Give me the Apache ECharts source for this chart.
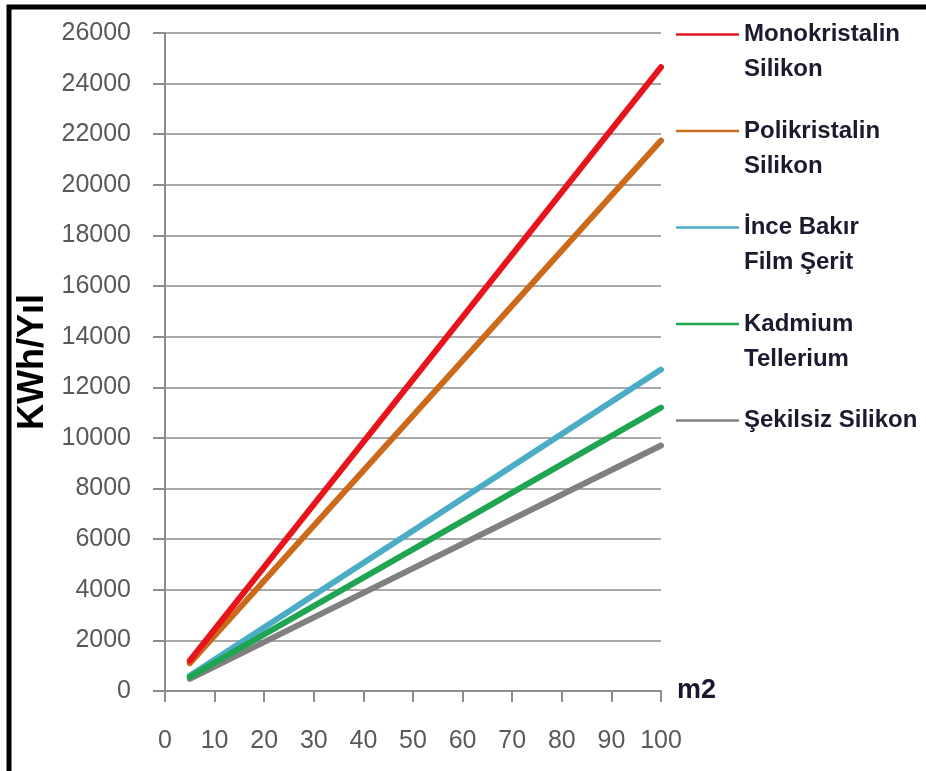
<!DOCTYPE html>
<html>
<head>
<meta charset="utf-8">
<script src="https://cdn.jsdelivr.net/npm/echarts@6/dist/echarts.min.js"></script>
<style>html,body{margin:0;padding:0;background:#fff;}#c{width:926px;height:771px;}</style>
</head>
<body>
<div id="c"></div>
<script>
var seriesNames = ['Monokristalin\nSilikon', 'Polikristalin\nSilikon', 'İnce Bakır\nFilm Şerit', 'Kadmium\nTellerium', 'Şekilsiz Silikon'];
var areaM2 = [5, 100];
var monoValues = [1200, 24650];
var poliValues = [1100, 21750];
var inceValues = [600, 12700];
var kadmiumValues = [560, 11200];
var sekilsizValues = [480, 9700];
var yTicks = [0, 2000, 4000, 6000, 8000, 10000, 12000, 14000, 16000, 18000, 20000, 22000, 24000, 26000];
var xTicks = [0, 10, 20, 30, 40, 50, 60, 70, 80, 90, 100];
var colors = ['#e8141b', '#cc6a1c', '#4bacc6', '#1fa550', '#808080'];
var valueSets = [monoValues, poliValues, inceValues, kadmiumValues, sekilsizValues];
var zOrder = [6, 5, 3, 4, 2];

function pairs(vals) { return areaM2.map(function (x, i) { return [x, vals[i]]; }); }

var series = seriesNames.map(function (n, i) {
  return {
    name: n, type: 'line', data: pairs(valueSets[i]), showSymbol: false, symbol: 'none',
    z: zOrder[i],
    lineStyle: { color: colors[i], width: 6, cap: 'round' },
    itemStyle: { color: colors[i] }
  };
});

var chart = echarts.init(document.getElementById('c'));
chart.setOption({
  animation: false,
  backgroundColor: '#fff',
  grid: { left: 165, right: 265, top: 33, bottom: 80, containLabel: false },
  xAxis: {
    type: 'value', min: xTicks[0], max: xTicks[xTicks.length - 1], interval: 10,
    name: 'm2', nameLocation: 'end', nameGap: 16,
    nameTextStyle: { fontFamily: 'Liberation Sans', fontWeight: 'bold', fontSize: 27, color: '#1c1630', verticalAlign: 'middle' },
    axisLine: { lineStyle: { color: '#8c8c8c', width: 2 } },
    axisTick: { show: true, length: 11, lineStyle: { color: '#8c8c8c', width: 2 } },
    axisLabel: { margin: 38, fontFamily: 'Liberation Sans', fontSize: 25, color: '#595959' },
    splitLine: { show: false }
  },
  yAxis: {
    type: 'value', min: yTicks[0], max: yTicks[yTicks.length - 1], interval: 2000,
    name: 'KWh/Yıl', nameLocation: 'middle', nameGap: 106,
    nameTextStyle: { fontFamily: 'Liberation Sans', fontWeight: 'bold', fontSize: 36, color: '#000' },
    axisLine: { show: true, lineStyle: { color: '#8c8c8c', width: 2 } },
    axisTick: { show: true, length: 12, lineStyle: { color: '#8c8c8c', width: 2 } },
    axisLabel: { margin: 34, fontFamily: 'Liberation Sans', fontSize: 25, color: '#595959',
      formatter: function (v) { return String(v); } },
    splitLine: { show: true, lineStyle: { color: '#8c8c8c', width: 1.5 } }
  },
  legend: {
    orient: 'vertical', left: 676, top: -18, padding: 0, itemGap: -8.5,
    icon: 'rect', itemWidth: 63, itemHeight: 2.5,
    data: seriesNames,
    formatter: function (name) {
      return name.indexOf('\n') >= 0 ? ' \n' + name : ' \n' + name + '\n ';
    },
    textStyle: { fontFamily: 'Liberation Sans', fontWeight: 'bold', fontSize: 24, color: '#1c1a2e', lineHeight: 35 }
  },
  graphic: [{
    type: 'polyline', silent: true, z: 100,
    shape: { points: [[9, 771], [9, 7], [926, 7]] },
    style: { stroke: '#000', lineWidth: 5, fill: null }
  }],
  series: series
});
</script>
</body>
</html>
